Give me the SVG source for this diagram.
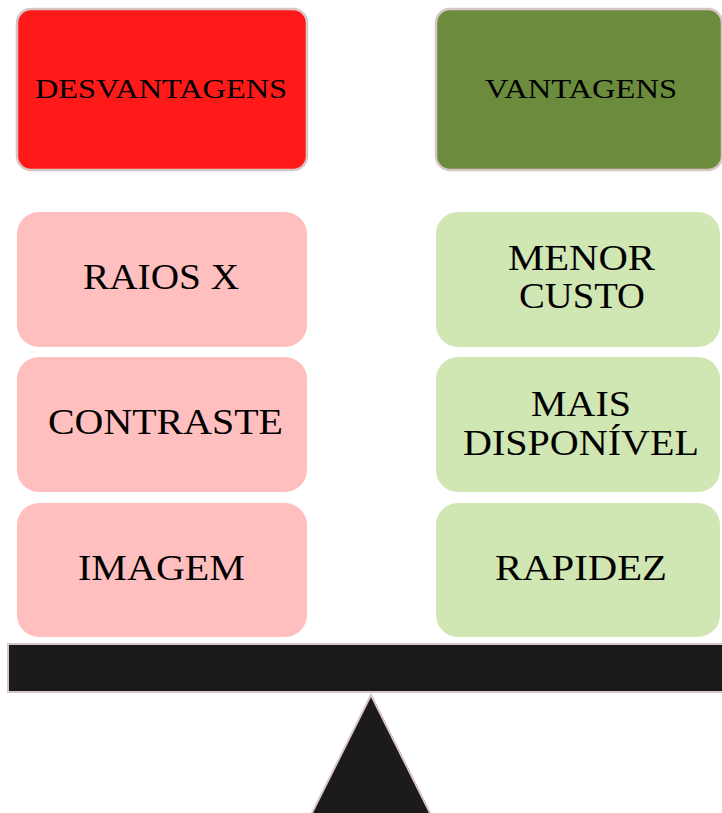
<svg xmlns="http://www.w3.org/2000/svg" width="722" height="813" viewBox="0 0 722 813">
<style>
.t{font-family:"Liberation Serif","Times New Roman",serif;fill:#000;text-anchor:middle}
.h{font-size:28px}
.b{font-size:36px}
.hdr{stroke:#d8c6c6;stroke-width:2.5}
.pink{fill:#ffbfbf}
.green{fill:#d0e6b3}
</style>
<rect width="722" height="813" fill="#fff"/>
<g id="desvantagens">
<rect class="hdr" x="17" y="9" width="290" height="161" rx="14" fill="#ff1a1a"/>
<text class="t h" x="161" y="98" textLength="252" lengthAdjust="spacingAndGlyphs">DESVANTAGENS</text>
</g>
<g id="vantagens">
<rect class="hdr" x="436" y="9" width="286" height="161" rx="14" fill="#6a8c3c"/>
<text class="t h" x="581" y="98" textLength="192" lengthAdjust="spacingAndGlyphs">VANTAGENS</text>
</g>
<g id="raios-x">
<rect class="pink" x="17" y="212" width="290" height="135" rx="22"/>
<text class="t b" x="161" y="289" textLength="156" lengthAdjust="spacingAndGlyphs">RAIOS X</text>
</g>
<g id="contraste">
<rect class="pink" x="17" y="357" width="290" height="135" rx="22"/>
<text class="t b" x="165.5" y="434" textLength="235" lengthAdjust="spacingAndGlyphs">CONTRASTE</text>
</g>
<g id="imagem">
<rect class="pink" x="17" y="503" width="290" height="134" rx="22"/>
<text class="t b" x="161.5" y="580" textLength="167" lengthAdjust="spacingAndGlyphs">IMAGEM</text>
</g>
<g id="menor-custo">
<rect class="green" x="436" y="212" width="284" height="135" rx="22"/>
<text class="t b" x="581.5" y="270" textLength="147" lengthAdjust="spacingAndGlyphs">MENOR</text>
<text class="t b" x="582" y="308" textLength="126" lengthAdjust="spacingAndGlyphs">CUSTO</text>
</g>
<g id="mais-disponivel">
<rect class="green" x="436" y="357" width="284" height="135" rx="22"/>
<text class="t b" x="581" y="416" textLength="100" lengthAdjust="spacingAndGlyphs">MAIS</text>
<text class="t b" x="581" y="455" textLength="236" lengthAdjust="spacingAndGlyphs">DISPONÍVEL</text>
</g>
<g id="rapidez">
<rect class="green" x="436" y="503" width="284" height="134" rx="22"/>
<text class="t b" x="581" y="580" textLength="172" lengthAdjust="spacingAndGlyphs">RAPIDEZ</text>
</g>
<g id="balance">
<rect x="8" y="644" width="720" height="48" fill="#1b1b1b" stroke="#d8c6c6" stroke-width="2"/>
<polygon points="371,695 431,815 311,815" fill="#1b1b1b" stroke="#d8c6c6" stroke-width="2"/>
</g>
<g id="connectors"></g>
</svg>
